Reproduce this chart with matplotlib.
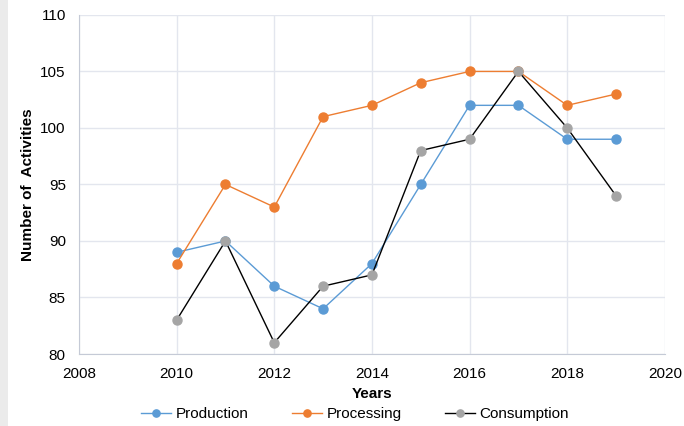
import numpy as np
import matplotlib.pyplot as plt
from matplotlib.patches import Rectangle

plt.rcParams['font.family'] = ['Liberation Sans', 'DejaVu Sans']

# Dati
anni = np.array([2010, 2011, 2012, 2013, 2014, 2015, 2016, 2017, 2018, 2019])
production = [89, 90, 86, 84, 88, 95, 102, 102, 99, 99]
processing = [88, 95, 93, 101, 102, 104, 105, 105, 102, 103]
consumption = [83, 90, 81, 86, 87, 98, 99, 105, 100, 94]

fig = plt.figure(figsize=(6.84, 4.26), dpi=100)
ax = fig.add_axes([0.1155, 0.169, 0.8565, 0.796])

# striscia grigia sul bordo sinistro
fig.patches.append(Rectangle((0, 0), 8 / 684, 1, transform=fig.transFigure,
                             facecolor='#ebebeb', edgecolor='none'))

ax.plot(anni, production, color='#5B9BD5', lw=1, marker='o', ms=6.5,
        label='Production')
ax.plot(anni, processing, color='#ED7D31', lw=1, marker='o', ms=6.5,
        label='Processing')
ax.plot(anni, consumption, color='black', lw=1, marker='o', ms=6.5,
        mfc='#A5A5A5', mec='#A5A5A5', label='Consumption')

ax.set_xlim(2008, 2020)
ax.set_ylim(80, 110)
ax.set_xticks(np.arange(2008, 2021, 2))
ax.set_yticks(np.arange(80, 111, 5))
ax.grid(True, color='#e3e6ee', lw=1)
ax.set_axisbelow(True)
for s in ['top', 'right']:
    ax.spines[s].set_visible(False)
for s in ['left', 'bottom']:
    ax.spines[s].set_color('#c5cad6')
ax.tick_params(length=0, labelsize=11)
ax.tick_params(axis='y', pad=9.5)
ax.tick_params(axis='x', pad=9)

ax.set_xlabel('Years', fontsize=11, fontweight='bold', labelpad=5)
ax.set_ylabel('Number of  Activities', fontsize=11, fontweight='bold', labelpad=4)

ax.legend(loc='center', bbox_to_anchor=(355 / 684, 12 / 426),
          bbox_transform=fig.transFigure, ncol=3,
          frameon=False, fontsize=11, handlelength=2.0, columnspacing=2.8,
          handletextpad=0.3, markerscale=0.8)

fig.savefig('out.png', dpi=100)
